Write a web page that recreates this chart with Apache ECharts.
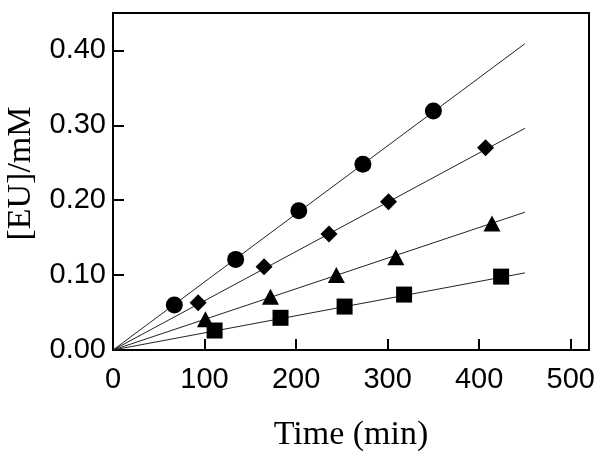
<!DOCTYPE html>
<html>
<head>
<meta charset="utf-8">
<script src="https://cdn.jsdelivr.net/npm/echarts@6/dist/echarts.min.js"></script>
<style>html,body{margin:0;padding:0;background:#fff;}#c{width:605px;height:461px;}</style>
</head>
<body>
<div id="c"></div>
<script>
const circles = [[67,0.060],[134,0.121],[203,0.186],[273,0.248],[350,0.319]];
const diamonds = [[93,0.063],[165,0.111],[236,0.155],[301,0.198],[407,0.270]];
const triangles = [[101,0.041],[172,0.071],[244,0.100],[309,0.124],[414,0.169]];
const squares = [[111,0.026],[183,0.043],[253,0.058],[318,0.074],[424,0.098]];
const fitCircle = [[0,0],[450,0.409]];
const fitDiamond = [[0,0],[450,0.296]];
const fitTriangle = [[0,0],[450,0.184]];
const fitSquare = [[0,0],[450,0.103]];

const chart = echarts.init(document.getElementById('c'));
const lineS = d => ({type:'line', data:d, symbol:'none', lineStyle:{color:'#222', width:1}, z:2, animation:false});
const ptS = (d, sym, size) => ({type:'scatter', data:d, symbol:sym, symbolSize:size, itemStyle:{color:'#000', opacity:1}, z:3, animation:false});
chart.setOption({
  animation:false,
  grid:{left:113, top:13, right:16, bottom:111, show:true, borderColor:'#000', borderWidth:2, backgroundColor:'#fff',
    containLabel:false, outerBoundsMode:'none'},
  xAxis:{type:'value', min:0, max:520, interval:100,
    name:'Time (min)', nameLocation:'middle', nameGap:68,
    nameTextStyle:{fontFamily:'Liberation Serif', fontSize:34, color:'#000'},
    axisLine:{lineStyle:{color:'#000', width:2}},
    axisTick:{inside:true, length:11, lineStyle:{color:'#000', width:2}},
    axisLabel:{showMaxLabel:false, fontFamily:'Arial', fontSize:29, color:'#000', margin:15},
    splitLine:{show:false}},
  yAxis:{type:'value', min:0, max:0.45, interval:0.1,
    name:'[EU]/mM', nameLocation:'middle', nameGap:75,
    nameTextStyle:{fontFamily:'Liberation Serif', fontSize:34, color:'#000', padding:[0,0,0,16]},
    axisLine:{lineStyle:{color:'#000', width:2}},
    axisTick:{inside:true, length:11, lineStyle:{color:'#000', width:2}},
    axisLabel:{showMaxLabel:false, fontFamily:'Arial', fontSize:29, color:'#000', margin:7,
      formatter:v=>v.toFixed(2)},
    splitLine:{show:false}},
  series:[
    lineS(fitCircle), lineS(fitDiamond), lineS(fitTriangle), lineS(fitSquare),
    ptS(circles,'circle',17), ptS(diamonds,'diamond',[17,17]),
    ptS(triangles,'triangle',[17,16]), ptS(squares,'rect',16)
  ]
});
</script>
</body>
</html>
